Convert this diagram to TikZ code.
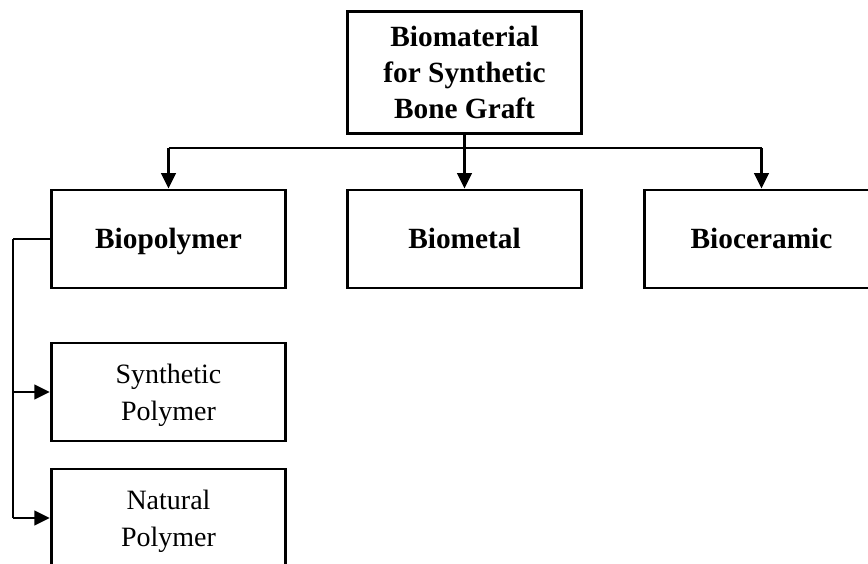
\documentclass[tikz,border=0pt]{standalone}
\usepackage{fontspec}
\setmainfont{Liberation Serif}
\usetikzlibrary{arrows.meta}

\tikzset{
  box/.style={draw,line width=2.2pt,minimum width=176pt,minimum height=73.5pt,
    align=center,inner sep=0pt},
  mainbox/.style={box,font=\fontsize{22}{27}\selectfont\bfseries},
  classbox/.style={mainbox,text height=14.6pt,text depth=0pt},
  subbox/.style={box,font=\fontsize{21}{27.5}\selectfont,text depth=0pt},
  conn/.style={line width=1.6pt},
  arr/.style={conn,-{Triangle[length=11.5pt,width=11pt]}}
}

\begin{document}
\begin{tikzpicture}[x=0.75pt,y=-0.75pt]
      \useasboundingbox (0,0) rectangle (868,564);
      \clip (0,0) rectangle (868,564);
      \node[mainbox,minimum height=91pt] (graft) at (464.5,72.5)
        {Biomaterial\\for Synthetic\\Bone Graft};
      \node[classbox] (bpoly) at (168.5,239) {Biopolymer};
      \node[classbox] (bmetal) at (464.5,239) {Biometal};
      \node[classbox] (bcer) at (761.5,239) {Bioceramic};
      \node[subbox] (synpoly) at (168.5,392) {Synthetic\\Polymer};
      \node[subbox] (natpoly) at (168.5,518) {Natural\\Polymer};
      % branch to the three classes
      \coordinate (split) at (464.5,148);
      \draw[conn] (graft.south) -- (split);
      \draw[conn] (bpoly.north |- split) -- (bcer.north |- split);
      \foreach \n in {bpoly,bmetal,bcer}
        \draw[arr] (\n.north |- split) -- (\n.north);
      % biopolymer types
      \coordinate (spine) at (13,239);
      \draw[conn] (bpoly.west) -- (spine);
      \draw[line width=1pt] (spine) -- (spine |- natpoly.west);
      \foreach \n in {synpoly,natpoly}
        \draw[arr] (spine |- \n.west) -- (\n.west);
    \end{tikzpicture}
\end{document}
